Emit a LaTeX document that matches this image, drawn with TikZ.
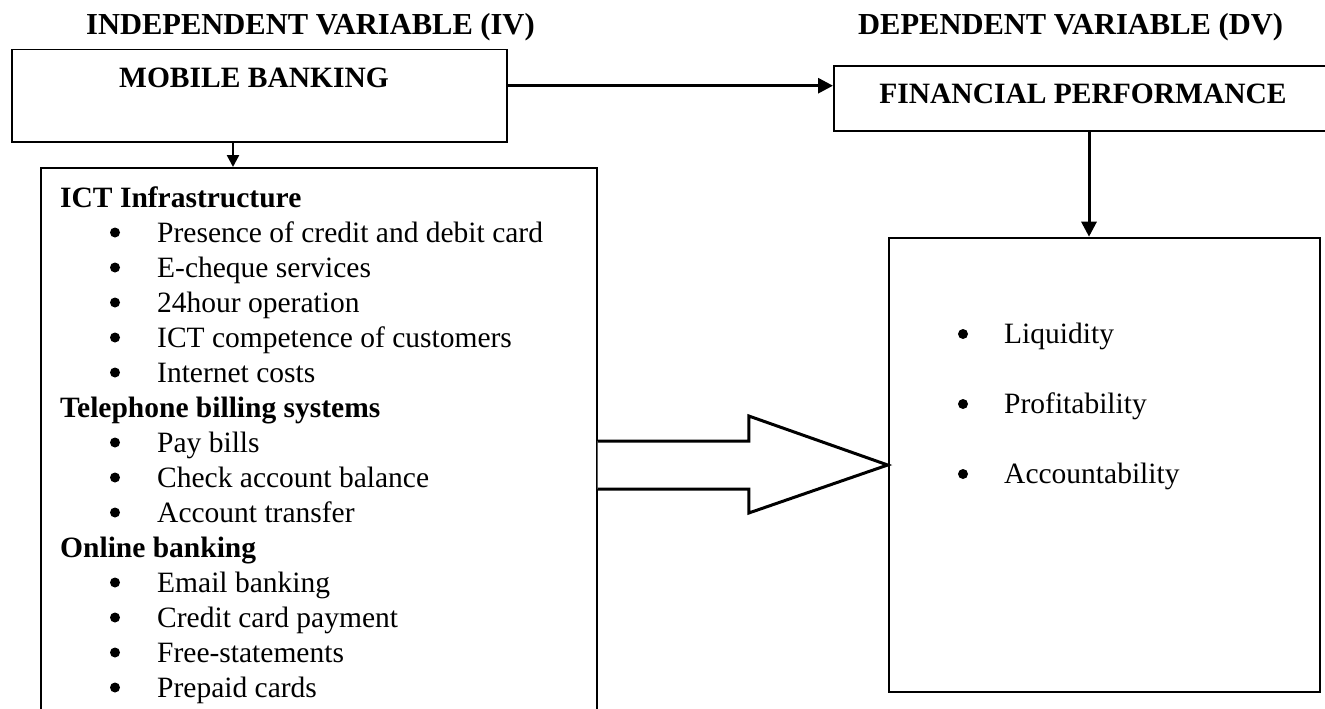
\documentclass[tikz,border=0pt]{standalone}
\usepackage{fontspec}
\setmainfont{Liberation Serif}
\usepackage{tikz}
\usetikzlibrary{arrows.meta, positioning, calc}

\begin{document}
\begin{tikzpicture}[
    x=1pt, y=-1pt,
    box/.style={draw, rectangle, line width=1.8pt, inner sep=0pt, anchor=north west},
    toptxt/.style={font=\fontsize{30.5}{35}\selectfont\bfseries, inner sep=0pt, anchor=base west},
    headtxt/.style={font=\fontsize{29.5}{35}\selectfont\bfseries, inner sep=0pt, anchor=base west},
    itemtxt/.style={font=\fontsize{29.5}{35}\selectfont, inner sep=0pt, anchor=base west},
    bullet/.style={fill=black},
    arrow/.style={-{Triangle[length=15pt, width=15pt]}, line width=3pt},
    smallarrow/.style={-{Triangle[length=12pt, width=12pt]}, line width=2.5pt},
    bigarrow/.style={draw, line width=3pt, line join=miter, fill=white}
]
\useasboundingbox (0,0) rectangle (1325,709);
\clip (0,0) rectangle (1325,709);

% Headings
\node[toptxt] (ivhead) at (86,35) {INDEPENDENT VARIABLE (IV)};
\node[toptxt] (dvhead) at (858,35) {DEPENDENT VARIABLE (DV)};

% Independent variable
\node[box, minimum width=494.7pt, minimum height=92pt] (mobile) at (11,48.7) {};
\node[headtxt, anchor=base] (mobiletxt) at (254,88) {MOBILE BANKING};
\node[box, minimum width=555.7pt, minimum height=600pt] (ivbox) at (40,167) {};

\node[headtxt] (ict) at (60,207) {ICT Infrastructure};
\foreach \t [count=\k] in {Presence of credit and debit card, E-cheque services, 24hour operation, ICT competence of customers, Internet costs}{
  \node[itemtxt] at (157,207+35*\k) {\t};
  \fill[bullet] (115,197.5+35*\k) circle (5pt);
}
\node[headtxt] (tel) at (60,417) {Telephone billing systems};
\foreach \t [count=\k] in {Pay bills, Check account balance, Account transfer}{
  \node[itemtxt] at (157,417+35*\k) {\t};
  \fill[bullet] (115,407.5+35*\k) circle (5pt);
}
\node[headtxt] (online) at (60,557) {Online banking};
\foreach \t [count=\k] in {Email banking, Credit card payment, Free-statements, Prepaid cards}{
  \node[itemtxt] at (157,557+35*\k) {\t};
  \fill[bullet] (115,547.5+35*\k) circle (5pt);
}

% Dependent variable
\node[box, minimum width=497pt, minimum height=65pt] (fp) at (833,65) {};
\node[headtxt, anchor=base] (fptxt) at (1083,103) {FINANCIAL PERFORMANCE};
\node[box, minimum width=431pt, minimum height=454.3pt] (dvbox) at (887.7,236.7) {};
\foreach \t [count=\k] in {Liquidity, Profitability, Accountability}{
  \node[itemtxt] at (1004,273+70*\k) {\t};
  \fill[bullet] (963,264+70*\k) circle (5pt);
}

% Connections
\draw[arrow] (mobile.east |- 0,85.7) -- (fp.west |- 0,85.7);
\draw[smallarrow] (mobile.south -| 233,0) -- (ivbox.north -| 233,0);
\draw[arrow] (fp.south -| 1089,0) -- (dvbox.north -| 1089,0);

% Block arrow
\coordinate (tip) at (dvbox.west |- 0,465);
\draw[bigarrow] (ivbox.east |- 0,441) -- ++(151.3,0) -- ++(0,-25) -- (tip)
  -- ($(ivbox.east |- 0,513)+(151.3,0)$) -- ++(0,-24) -- (ivbox.east |- 0,489);

\end{tikzpicture}
\end{document}
